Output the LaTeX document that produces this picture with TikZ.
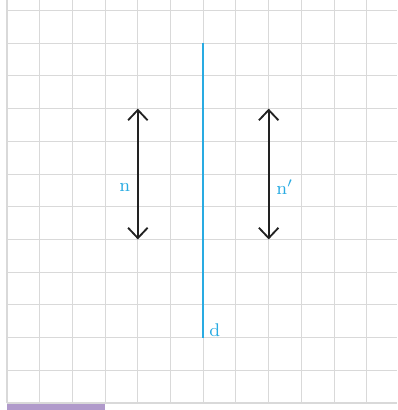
\documentclass[tikz,border=0pt]{standalone}
\usepackage{tikz}
\usetikzlibrary{arrows.meta, positioning}
\definecolor{gridgray}{HTML}{D9D9D9}
\definecolor{mirrorblue}{HTML}{29ABE2}
\definecolor{barlilac}{HTML}{B09ACB}
\definecolor{arrowdark}{HTML}{222222}

\begin{document}
\begin{tikzpicture}[
  x=0.5cm, y=0.5cm,
  gridline/.style={draw=gridgray, line width=0.45pt},
  mirror/.style={draw=mirrorblue, line width=0.8pt},
  vec/.style={{Straight Barb[length=4.5pt,width=8.5pt]}-{Straight Barb[length=4.5pt,width=8.5pt]},
              draw=arrowdark, line width=0.8pt},
  lbl/.style={font=\footnotesize, text=mirrorblue, inner sep=1pt},
]
\useasboundingbox (-0.214,-0.214) rectangle (11.93,12.32);

%% squared paper
\draw[gridline, step=0.5cm] (0,0) grid (11.93,12.32);
\fill[barlilac] (0,-0.214) rectangle (3,-0.03);

%% mirror line d
\coordinate (dtop) at (6,11);
\coordinate (dbot) at (6,2);
\draw[mirror] (dtop) -- (dbot);
\node[lbl, anchor=south west] (d) at (6.1,1.95) {d};

%% object n and image n'
\coordinate (ntop) at (4,9);
\coordinate (nbot) at (4,5);
\coordinate (mtop) at (8,9);
\coordinate (mbot) at (8,5);
\draw[vec] (ntop) -- (nbot);
\draw[vec] (mtop) -- (mbot);
\node[lbl, anchor=east] (n) at (3.85,6.6) {n};
\node[lbl, anchor=west] (nn) at (8.15,6.6) {n$'$};
\end{tikzpicture}
\end{document}
